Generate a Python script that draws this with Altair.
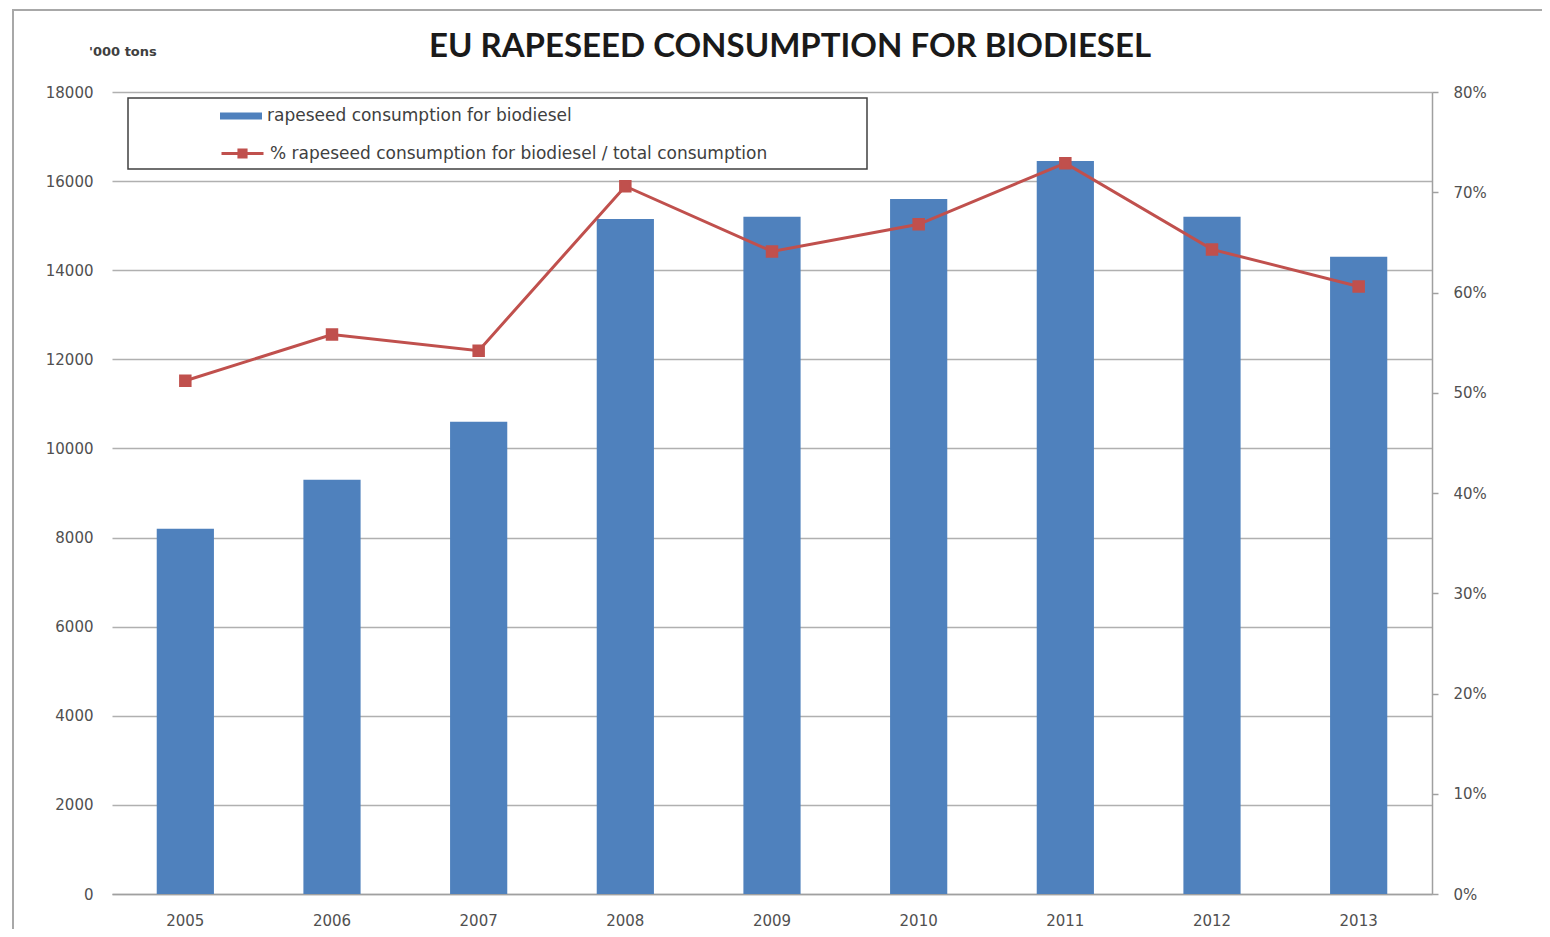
import altair as alt
import pandas as pd

years = ["2005", "2006", "2007", "2008", "2009", "2010", "2011", "2012", "2013"]
consumption = [8200, 9300, 10600, 15150, 15200, 15600, 16450, 15200, 14300]
share_pct = [51.2, 55.8, 54.2, 70.6, 64.1, 66.8, 72.9, 64.3, 60.6]

left_ticks = [0, 2000, 4000, 6000, 8000, 10000, 12000, 14000, 16000, 18000]
right_ticks = [0, 10, 20, 30, 40, 50, 60, 70, 80]

bar_label = "rapeseed consumption for biodiesel"
line_label = "% rapeseed consumption for biodiesel / total consumption"
title_text = "EU RAPESEED CONSUMPTION FOR BIODIESEL"
units_text = "'000 tons"

BLUE = "#4F81BD"
RED = "#C0504D"
GRID = "#B0B0B0"
LABEL = "#505050"
FONT = "DejaVu Sans"

W, H = 1320, 802

df = pd.DataFrame({
    "year": years,
    "consumption": consumption,
    "share": share_pct,
    "bar_series": [bar_label] * len(years),
    "line_series": [line_label] * len(years),
})
one = pd.DataFrame({"t": [title_text], "u": [units_text]})

x_enc = alt.X(
    "year:N",
    sort=years,
    scale=alt.Scale(paddingInner=0.61, paddingOuter=0.305),
    axis=alt.Axis(title=None, labelAngle=0, ticks=False, domain=True,
                  domainColor="#A0A0A0", domainWidth=1.5, grid=False,
                  labelFont=FONT, labelFontSize=15, labelColor=LABEL,
                  labelPadding=19),
)

frame = alt.Chart(one).mark_rect(filled=False, stroke="#A8A8A8", strokeWidth=2).encode(
    x=alt.value(-99), x2=alt.value(W + 125), y=alt.value(-82), y2=alt.value(H + 60)
)

legend_box = alt.Chart(one).mark_rect(fill="white", stroke="#404040", strokeWidth=1.5).encode(
    x=alt.value(16), x2=alt.value(755), y=alt.value(6), y2=alt.value(77)
)

bars = alt.Chart(df).mark_bar(color=BLUE).encode(
    x=x_enc,
    y=alt.Y(
        "consumption:Q",
        scale=alt.Scale(domain=[0, 18000], nice=False),
        axis=alt.Axis(title=None, values=left_ticks, format="d", grid=True,
                      gridColor=GRID, gridWidth=1.6, ticks=False, domain=False,
                      labelFont=FONT, labelFontSize=15, labelColor=LABEL,
                      labelPadding=19),
    ),
    fill=alt.Fill(
        "bar_series:N",
        scale=alt.Scale(domain=[bar_label], range=[BLUE]),
        legend=alt.Legend(
            title=None, orient="none", legendX=108, legendY=3, padding=0,
            symbolType="M-1,-0.17H1V0.17H-1Z", symbolSize=1764,
            symbolStrokeWidth=0, labelFont=FONT, labelFontSize=17,
            labelColor="#404040", labelOffset=5, labelLimit=800,
        ),
    ),
)

line = alt.Chart(df).mark_line(
    strokeWidth=3,
    point=alt.OverlayMarkDef(shape="square", size=110, filled=True, color=RED),
).encode(
    x=x_enc,
    y=alt.Y(
        "share:Q",
        scale=alt.Scale(domain=[0, 80], nice=False),
        axis=alt.Axis(title=None, orient="right", values=right_ticks,
                      labelExpr="datum.value + '%'", grid=False,
                      ticks=True, tickSize=6, tickColor="#A0A0A0", tickWidth=1.5,
                      domain=True, domainColor="#A0A0A0", domainWidth=1.5,
                      labelFont=FONT, labelFontSize=15, labelColor=LABEL,
                      labelPadding=15),
    ),
    stroke=alt.Stroke(
        "line_series:N",
        scale=alt.Scale(domain=[line_label], range=[RED]),
        legend=alt.Legend(
            title=None, orient="none", legendX=108, legendY=39, padding=0,
            symbolType=("M-1,0H1M-0.17,-0.17H0.17V0.17H-0.17Z"
                        "M-0.11,-0.11H0.11V0.11H-0.11Z"
                        "M-0.05,-0.05H0.05V0.05H-0.05Z"),
            symbolSize=1764,
            symbolStrokeWidth=3, symbolFillColor=RED,
            labelFont=FONT, labelFontSize=17,
            labelColor="#404040", labelOffset=5, labelLimit=800,
        ),
    ),
)

title = alt.Chart(one).mark_text(
    font="Lato", fontSize=33, fontWeight="bold", color="#1A1A1A",
    align="center", baseline="middle",
).encode(text="t:N", x=alt.value(678), y=alt.value(-45))

units = alt.Chart(one).mark_text(
    font=FONT, fontSize=13, fontWeight="bold", color="#404040",
    align="left", baseline="middle",
).encode(text="u:N", x=alt.value(-23), y=alt.value(-40))

chart = alt.layer(frame, legend_box, bars, line, title, units).resolve_scale(
    y="independent"
).properties(
    width=W, height=H,
    autosize=alt.AutoSizeParams(type="none"),
    padding={"left": 104, "top": 84, "right": 110, "bottom": 35},
).configure_view(stroke=None)

chart.save("out.html", embed_options={"renderer": "svg", "actions": False})
